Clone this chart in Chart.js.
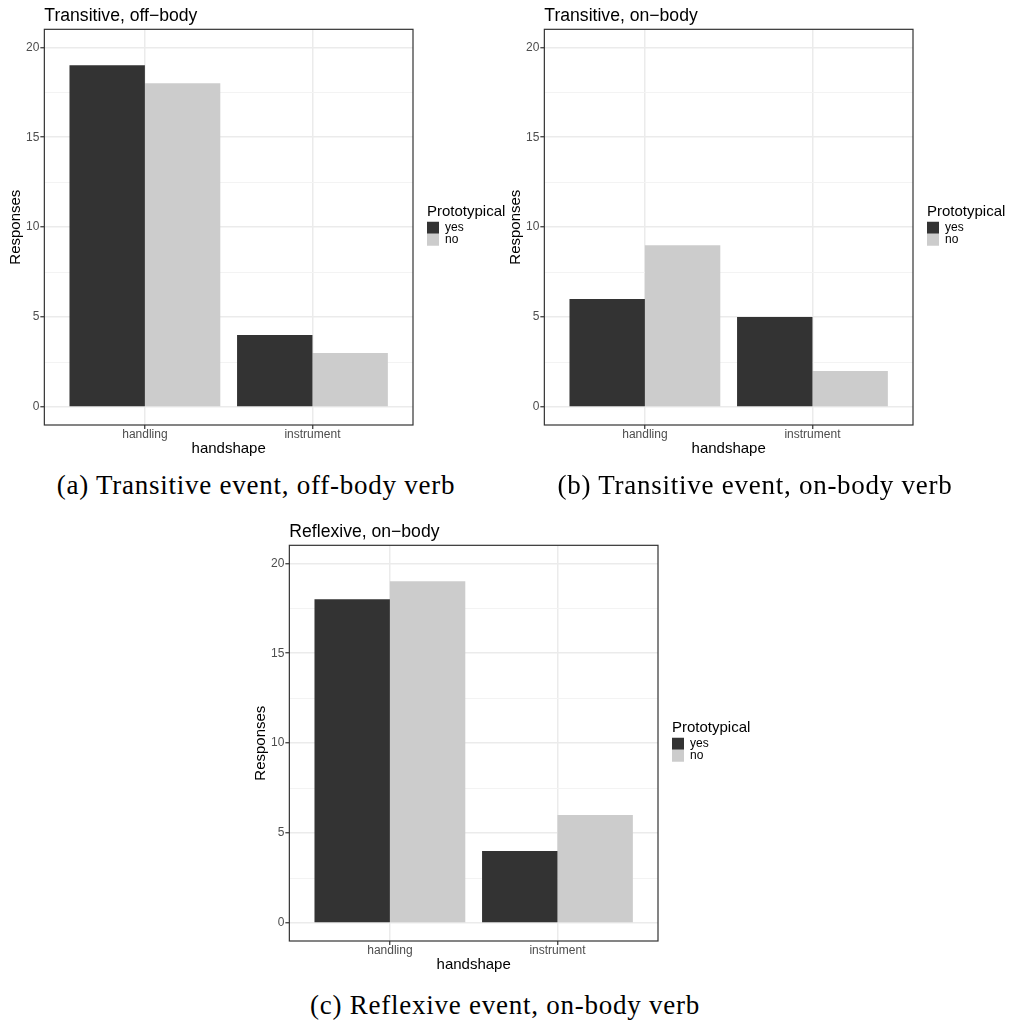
<!DOCTYPE html>
<html>
<head>
<meta charset="utf-8">
<script src="https://cdn.jsdelivr.net/npm/chart.js@4/dist/chart.umd.min.js"></script>
<style>
  html, body { margin: 0; padding: 0; background: #ffffff; }
  body { width: 1011px; height: 1026px; position: relative; overflow: hidden; }
  canvas { position: absolute; }
  .cap { position: absolute; font-family: "Liberation Serif", "Times New Roman", serif; font-size: 27px; letter-spacing: 0.75px; color: #000; white-space: nowrap; transform: translateX(-50%); line-height: 1; }
</style>
</head>
<body>
<canvas id="chartA" width="511" height="460" style="left:0px;top:0px"></canvas>
<canvas id="chartB" width="511" height="460" style="left:500px;top:0px"></canvas>
<canvas id="chartC" width="511" height="460" style="left:245px;top:516px"></canvas>
<div class="cap" id="capA" style="left:256px;top:472px">(a) Transitive event, off-body verb</div>
<div class="cap" id="capB" style="left:755px;top:472px">(b) Transitive event, on-body verb</div>
<div class="cap" id="capC" style="left:505px;top:992px">(c) Reflexive event, on-body verb</div>
<script>
// ---- data ----
const categories = ['handling', 'instrument'];
const seriesNames = ['yes', 'no'];
const legendTitle = 'Prototypical';
const xTitle = 'handshape';
const yTitle = 'Responses';
const titleA = 'Transitive, off\u2212body';
const titleB = 'Transitive, on\u2212body';
const titleC = 'Reflexive, on\u2212body';
const yesA = [19, 4];
const noA  = [18, 3];
const yesB = [6, 5];
const noB  = [9, 2];
const yesC = [18, 4];
const noC  = [19, 6];
const yTicks = [0, 2.5, 5, 7.5, 10, 12.5, 15, 17.5, 20];
const yLabelTicks = [0, 5, 10, 15, 20];

const FONT = '"Liberation Sans", Arial, Helvetica, sans-serif';
Chart.defaults.font.family = FONT;

const panelBorder = {
  id: 'panelBorder',
  afterInit(chart) {
    // widen the legend box so its title is not clipped
    const lg = chart.legend;
    if (lg) {
      const origFit = lg.fit.bind(lg);
      lg.fit = function () {
        origFit();
        if (!this.isHorizontal()) this.width = Math.max(this.width, 84);
      };
    }
  },
  afterDraw(chart) {
    const { ctx, chartArea: a } = chart;
    ctx.save();
    ctx.strokeStyle = '#333333';
    ctx.lineWidth = 1.2;
    ctx.strokeRect(a.left, a.top, a.right - a.left, a.bottom - a.top);
    ctx.restore();
  }
};

const isMajor = v => yLabelTicks.includes(v);

function makeChart(id, title, yes, no) {
  return new Chart(document.getElementById(id), {
    type: 'bar',
    data: {
      datasets: [
        { label: seriesNames[0], data: categories.map((c, i) => ({ x: i + 1, y: yes[i] })), backgroundColor: '#333333', borderWidth: 0 },
        { label: seriesNames[1], data: categories.map((c, i) => ({ x: i + 1, y: no[i] })), backgroundColor: '#cccccc', borderWidth: 0 }
      ]
    },
    options: {
      responsive: false,
      animation: false,
      datasets: { bar: { categoryPercentage: 0.9, barPercentage: 1.0 } },
      layout: { padding: { left: 0, top: 0, right: 0, bottom: 4 } },
      plugins: {
        tooltip: { enabled: false },
        title: {
          display: true, text: title, align: 'start', fullSize: false, color: '#000000',
          font: { family: FONT, size: 17.6, weight: 'normal', lineHeight: 1.2 },
          padding: { top: 5.2, bottom: 3 }
        },
        legend: {
          display: true, position: 'right', align: 'center', fullSize: false,
          title: {
            display: true, text: legendTitle, position: 'start', color: '#000000',
            font: { family: FONT, size: 15, lineHeight: 1.2 },
            padding: { top: -4, bottom: -1 }
          },
          labels: { boxWidth: 12, boxHeight: 12, padding: 0, color: '#000000', font: { family: FONT, size: 12 } }
        }
      },
      scales: {
        x: {
          type: 'linear', min: 0.4, max: 2.6, offset: false,
          afterBuildTicks: s => { s.ticks = categories.map((c, i) => ({ value: i + 1 })); },
          ticks: {
            callback: v => categories[Math.round(v) - 1] ?? '',
            color: '#4d4d4d', font: { family: FONT, size: 12, lineHeight: 1 }, padding: 0, maxRotation: 0, autoSkip: false
          },
          grid: { offset: false, color: '#ebebeb', lineWidth: 1.5, drawTicks: true, tickLength: 4, tickColor: '#333333', tickWidth: 1.2 },
          border: { display: false },
          title: { display: true, text: xTitle, color: '#000000', font: { family: FONT, size: 15, lineHeight: 1 }, padding: { top: 0, bottom: 0 } }
        },
        y: {
          type: 'linear', min: -1, max: 21,
          afterBuildTicks: s => { s.ticks = yTicks.map(v => ({ value: v })); },
          ticks: {
            callback: v => (isMajor(v) ? String(v) : ''),
            color: '#4d4d4d', font: { family: FONT, size: 12 }, padding: 1, autoSkip: false
          },
          grid: {
            color: c => (c.tick && isMajor(c.tick.value) ? '#ebebeb' : '#f3f3f3'),
            lineWidth: c => (c.tick && isMajor(c.tick.value) ? 1.5 : 1),
            drawTicks: true, tickLength: 4,
            tickColor: c => (c.tick && isMajor(c.tick.value) ? '#333333' : 'rgba(0,0,0,0)'),
            tickWidth: 1.2
          },
          border: { display: false },
          title: { display: true, text: yTitle, color: '#000000', font: { family: FONT, size: 15, lineHeight: 1.2 }, padding: { top: 7, bottom: 0 } }
        },
        gap: {
          type: 'linear', position: 'right', display: true,
          grid: { display: false, drawTicks: false },
          ticks: { display: false },
          border: { display: false },
          afterFit: s => { s.width = 14; }
        }
      }
    },
    plugins: [panelBorder]
  });
}

makeChart('chartA', titleA, yesA, noA);
makeChart('chartB', titleB, yesB, noB);
makeChart('chartC', titleC, yesC, noC);
</script>
</body>
</html>
